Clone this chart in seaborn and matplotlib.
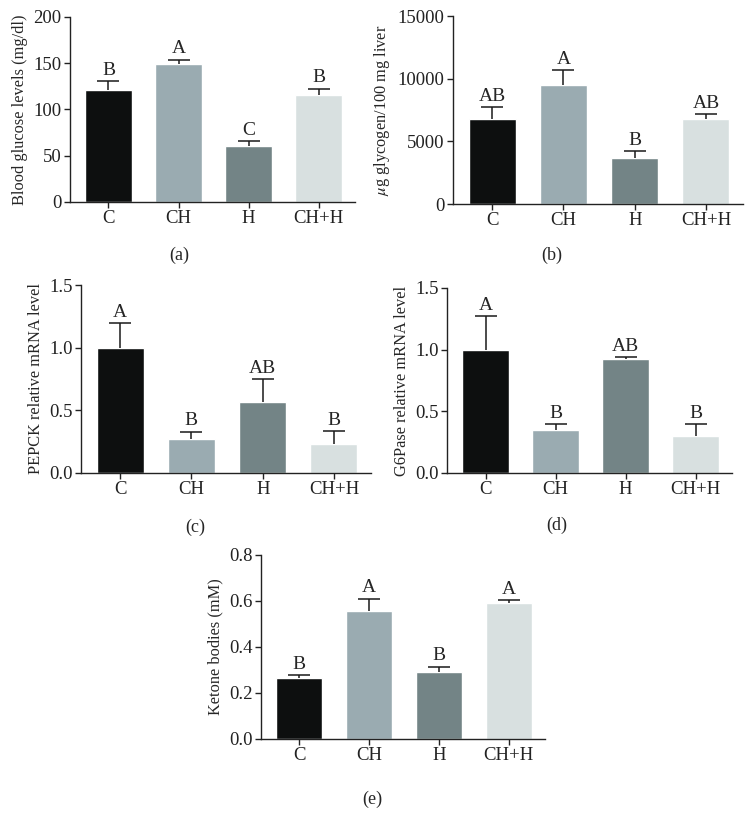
import matplotlib
matplotlib.use('Agg')
import matplotlib.pyplot as plt
import seaborn as sns
import pandas as pd

groups = ['C', 'CH', 'H', 'CH+H']
bar_colors = ['#0d0f0f', '#9aabb1', '#738486', '#d8e0e0']

glucose = [121, 149, 61, 116]
glucose_err = [9.5, 5, 4.5, 6.5]
glucose_sig = ['B', 'A', 'C', 'B']

glycogen = [6760, 9470, 3670, 6760]
glycogen_err = [960, 1220, 560, 420]
glycogen_sig = ['AB', 'A', 'B', 'AB']

pepck = [1.0, 0.274, 0.567, 0.232]
pepck_err = [0.194, 0.056, 0.179, 0.104]
pepck_sig = ['A', 'B', 'AB', 'B']

g6pase = [1.0, 0.348, 0.928, 0.297]
g6pase_err = [0.27, 0.046, 0.011, 0.097]
g6pase_sig = ['A', 'B', 'AB', 'B']

ketone = [0.265, 0.557, 0.291, 0.592]
ketone_err = [0.011, 0.053, 0.024, 0.011]
ketone_sig = ['B', 'A', 'B', 'A']

sns.set_style('ticks')
plt.rcParams['font.family'] = 'serif'
plt.rcParams['font.serif'] = ['Liberation Serif', 'DejaVu Serif']
plt.rcParams['mathtext.fontset'] = 'stix'

fig = plt.figure(figsize=(7.5, 8.23), dpi=100)


def panel(rect, vals, errs, sig, ylim, yticks, ylabel, tag, tagpos):
    ax = fig.add_axes(rect)
    d = pd.DataFrame({'group': groups, 'val': vals})
    sns.barplot(data=d, x='group', y='val', hue='group', palette=bar_colors,
                width=0.66, legend=False, ax=ax, saturation=1)
    _, caps, _ = ax.errorbar(range(4), vals, yerr=[[0] * 4, errs], fmt='none',
                             ecolor='#1a1a1a', elinewidth=1.1, capsize=8,
                             capthick=1.1)
    caps[0].set_visible(False)
    off = ylim[1] * 0.012
    for i in range(4):
        ax.text(i, vals[i] + errs[i] + off, sig[i], ha='center', va='bottom',
                fontsize=14)
    ax.set_xlim(-0.55, 3.52)
    ax.set_ylim(*ylim)
    ax.set_yticks(yticks)
    ax.set_xlabel('')
    ax.set_ylabel(ylabel, fontsize=11.8, labelpad=4)
    ax.tick_params(labelsize=13.5, length=4, width=1, colors='#222222', pad=2)
    for s in ['left', 'bottom']:
        ax.spines[s].set_linewidth(1)
        ax.spines[s].set_color('#222222')
    sns.despine(ax=ax)
    fig.text(tagpos[0] / 750, 1 - tagpos[1] / 823, tag, ha='center',
             va='center', fontsize=13)
    return ax


panel([0.0933, 0.7546, 0.38, 0.2248], glucose, glucose_err, glucose_sig,
      (0, 200), [0, 50, 100, 150, 200], 'Blood glucose levels (mg/dl)',
      '(a)', (179, 255))
panel([0.604, 0.7521, 0.3867, 0.2284], glycogen, glycogen_err, glycogen_sig,
      (0, 15000), [0, 5000, 10000, 15000], r'$\mu$g glycogen/100 mg liver',
      '(b)', (552, 255))
panel([0.108, 0.4253, 0.3867, 0.2284], pepck, pepck_err, pepck_sig,
      (0, 1.5), [0, 0.5, 1.0, 1.5], 'PEPCK relative mRNA level',
      '(c)', (195, 527))
panel([0.596, 0.4253, 0.38, 0.2248], g6pase, g6pase_err, g6pase_sig,
      (0, 1.5), [0, 0.5, 1.0, 1.5], 'G6Pase relative mRNA level',
      '(d)', (557, 525))
panel([0.348, 0.1021, 0.3787, 0.2236], ketone, ketone_err, ketone_sig,
      (0, 0.8), [0, 0.2, 0.4, 0.6, 0.8], 'Ketone bodies (mM)',
      '(e)', (372, 799))

for ax in fig.axes:
    if ax.get_ylim()[1] < 2:
        ax.yaxis.set_major_formatter(matplotlib.ticker.FormatStrFormatter('%.1f'))

fig.savefig('out.png', dpi=100)
